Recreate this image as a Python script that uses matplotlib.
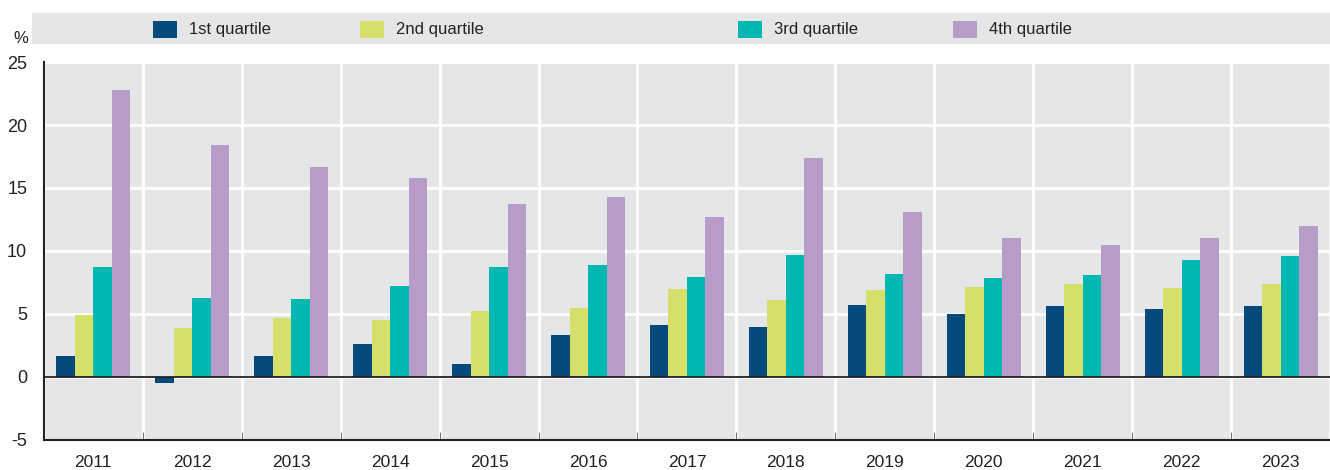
import numpy as np
import matplotlib.pyplot as plt
from matplotlib.patches import Rectangle

plt.rcParams['font.family'] = ['Liberation Sans Narrow', 'Liberation Sans', 'DejaVu Sans']
plt.rcParams['axes.unicode_minus'] = False

years = ['2011', '2012', '2013', '2014', '2015', '2016', '2017',
         '2018', '2019', '2020', '2021', '2022', '2023']
q1 = [1.7, -0.5, 1.7, 2.65, 1.05, 3.3, 4.15, 4.0, 5.75, 5.0, 5.65, 5.4, 5.65]
q2 = [4.95, 3.9, 4.7, 4.55, 5.2, 5.5, 7.0, 6.1, 6.9, 7.15, 7.4, 7.1, 7.4]
q3 = [8.7, 6.3, 6.15, 7.2, 8.75, 8.85, 7.95, 9.7, 8.2, 7.85, 8.1, 9.3, 9.6]
q4 = [22.8, 18.45, 16.7, 15.8, 13.7, 14.3, 12.7, 17.35, 13.1, 11.05, 10.5, 11.05, 11.95]
series = [q1, q2, q3, q4]
labels = ['1st quartile', '2nd quartile', '3rd quartile', '4th quartile']
colors = ['#044a7c', '#d6df6a', '#00b8b1', '#b79bc8']

bg = '#e5e6e8'
dark = '#222222'

fig = plt.figure(figsize=(13.3, 4.7), dpi=100)
ax = fig.add_axes([0.033, 0.064, 0.967, 0.804])
ax.set_facecolor(bg)

x = np.arange(len(years))
w = 0.187
for i, (vals, c) in enumerate(zip(series, colors)):
    ax.bar(x + (i - 1.5) * w, vals, width=w, color=c, zorder=3)

ax.set_xlim(-0.5, len(years) - 0.5)
ax.set_ylim(-5, 25)
ax.set_yticks(range(-5, 26, 5))
ax.set_xticks(x)
ax.set_xticklabels(years)
ax.set_xticks(np.arange(len(years) + 1) - 0.5, minor=True)

ax.grid(axis='y', color='white', linewidth=2, zorder=1)
ax.grid(axis='x', which='minor', color='white', linewidth=2, zorder=1)
ax.axhline(0, color=dark, linewidth=1.3, zorder=4)

for s in ['top', 'right']:
    ax.spines[s].set_visible(False)
for s in ['left', 'bottom']:
    ax.spines[s].set_color(dark)
    ax.spines[s].set_linewidth(1.5)

ax.tick_params(axis='x', which='major', length=0, labelsize=12.5, colors='#222222', pad=11)
ax.tick_params(axis='x', which='minor', direction='in', length=6, color='#555555')
ax.tick_params(axis='y', length=0, labelsize=13, colors='#222222', pad=12)

# legend band
fig.patches.append(Rectangle((0.024, 0.906), 0.976, 0.066, transform=fig.transFigure,
                             facecolor=bg, edgecolor='none'))
sw_x = [153, 360, 738, 953]
for sx, lab, c in zip(sw_x, labels, colors):
    fig.patches.append(Rectangle((sx / 1330, 0.920), 24 / 1330, 0.036,
                                 transform=fig.transFigure, facecolor=c, edgecolor='none'))
    fig.text((sx + 36) / 1330, 0.938, lab, fontsize=12, color='#222222', va='center', ha='left')

fig.text(0.010, 0.918, '%', fontsize=12, color='#222222', va='center', ha='left')

fig.savefig('out.png', dpi=100)
